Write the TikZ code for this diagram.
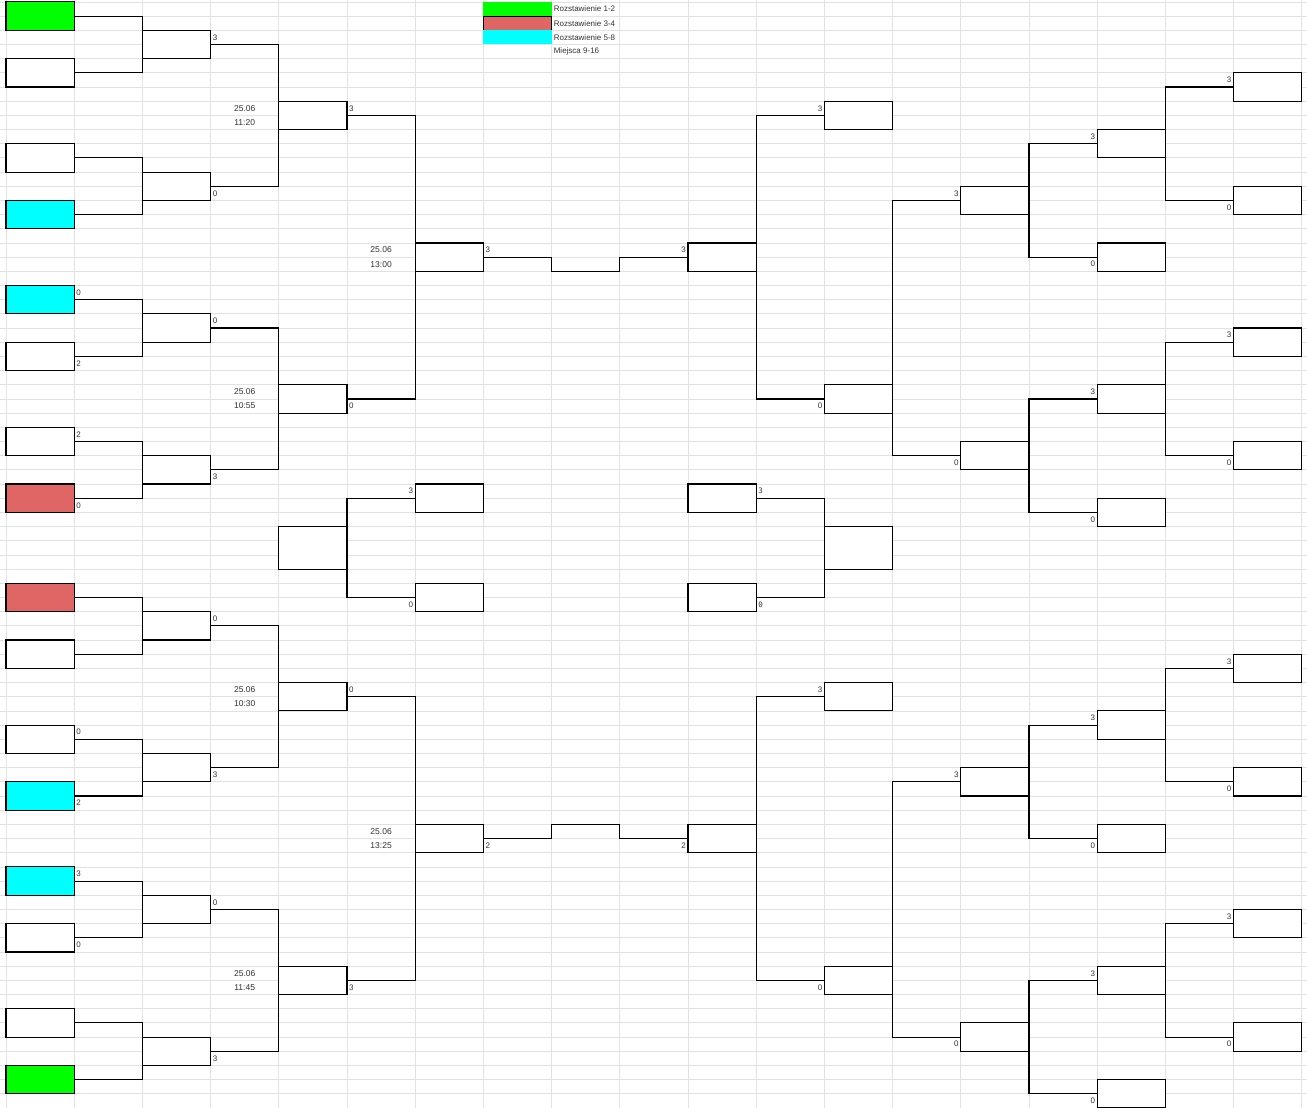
\documentclass[tikz,border=0pt]{standalone}
\usepackage{fontspec}
\setmainfont{Liberation Sans}
\setmonofont{DejaVu Sans Mono}
\usepackage{tikz}
\definecolor{seedgreen}{HTML}{00FF00}
\definecolor{seedred}{HTML}{E06666}
\definecolor{seedcyan}{HTML}{00FFFF}
\definecolor{gridgray}{HTML}{E2E2E2}

\begin{document}
\begin{tikzpicture}[x=68.2pt, y=-14.18pt,
  box/.style={draw, line width=1.1pt, fill=white, minimum width=68.2pt, minimum height=28.36pt, inner sep=0pt, outer sep=0pt, anchor=north west},
  tallbox/.style={box, minimum height=42.54pt},
  key/.style={minimum width=68.2pt, minimum height=14.18pt, inner sep=0pt, outer sep=0pt, anchor=north west},
  conn/.style={line width=1.1pt},
  gridline/.style={gridgray, line width=0.8pt},
  score/.style={font=\fontsize{8}{9}\selectfont, text=black!80, inner sep=2pt},
  lscore/.style={score, anchor=west},
  rscore/.style={score, anchor=east},
  monoscore/.style={lscore, font=\ttfamily\fontsize{7.5}{9}\selectfont},
  date/.style={font=\fontsize{8.5}{10}\selectfont, text=black!80, inner sep=0pt}]
\useasboundingbox (-0.088,-0.134) rectangle (19.076,78.0);
\fill[white] (-0.088,-0.134) rectangle (19.076,78.0);
\foreach \c in {0,...,19} \draw[gridline] (\c,-0.2) -- (\c,78.1);
\foreach \r in {0,...,78} \draw[gridline] (-0.1,\r) -- (19.1,\r);

\node[key, fill=seedgreen] (k1) at (7,0) {};
\node[key, fill=seedred, draw, line width=1pt] (k2) at (7,1) {};
\node[key, fill=seedcyan] (k3) at (7,2) {};
\node[lscore] (t1) at (8,0.5) {Rozstawienie 1-2};
\node[lscore] (t2) at (8,1.5) {Rozstawienie 3-4};
\node[lscore] (t3) at (8,2.5) {Rozstawienie 5-8};
\node[lscore] (t4) at (8,3.5) {Miejsca 9-16};

\node[box, fill=seedgreen] (la1) at (0,0) {};
\node[box] (la2) at (0,4) {};
\node[box] (la3) at (0,10) {};
\node[box, fill=seedcyan] (la4) at (0,14) {};
\node[box, fill=seedcyan] (la5) at (0,20) {};
\node[box] (la6) at (0,24) {};
\node[box] (la7) at (0,30) {};
\node[box, fill=seedred] (la8) at (0,34) {};
\node[box, fill=seedred] (la9) at (0,41) {};
\node[box] (la10) at (0,45) {};
\node[box] (la11) at (0,51) {};
\node[box, fill=seedcyan] (la12) at (0,55) {};
\node[box, fill=seedcyan] (la13) at (0,61) {};
\node[box] (la14) at (0,65) {};
\node[box] (la15) at (0,71) {};
\node[box, fill=seedgreen] (la16) at (0,75) {};

\node[box] (lb1) at (2,2) {};
\node[box] (lb2) at (2,12) {};
\node[box] (lb3) at (2,22) {};
\node[box] (lb4) at (2,32) {};
\node[box] (lb5) at (2,43) {};
\node[box] (lb6) at (2,53) {};
\node[box] (lb7) at (2,63) {};
\node[box] (lb8) at (2,73) {};

\node[box] (lc1) at (4,7) {};
\node[box] (lc2) at (4,27) {};
\node[box] (lc3) at (4,48) {};
\node[box] (lc4) at (4,68) {};

\node[box] (ld1) at (6,17) {};
\node[box] (ld2) at (6,58) {};

\node[tallbox] (lt) at (4,37) {};
\node[box] (lt1) at (6,34) {};
\node[box] (lt2) at (6,41) {};
\node[box] (rt1) at (10,34) {};
\node[box] (rt2) at (10,41) {};
\node[tallbox] (rt) at (12,37) {};

\node[box] (rf1) at (10,17) {};
\node[box] (rf2) at (10,58) {};

\node[box] (rc1) at (12,7) {};
\node[box] (rc2) at (12,27) {};
\node[box] (rc3) at (12,48) {};
\node[box] (rc4) at (12,68) {};

\node[box] (rb1) at (14,13) {};
\node[box] (rb2) at (14,31) {};
\node[box] (rb3) at (14,54) {};
\node[box] (rb4) at (14,72) {};

\node[box] (ra1) at (16,9) {};
\node[box] (ra2) at (16,17) {};
\node[box] (ra3) at (16,27) {};
\node[box] (ra4) at (16,35) {};
\node[box] (ra5) at (16,50) {};
\node[box] (ra6) at (16,58) {};
\node[box] (ra7) at (16,68) {};
\node[box] (ra8) at (16,76) {};

\node[box] (rz1) at (18,5) {};
\node[box] (rz2) at (18,13) {};
\node[box] (rz3) at (18,23) {};
\node[box] (rz4) at (18,31) {};
\node[box] (rz5) at (18,46) {};
\node[box] (rz6) at (18,54) {};
\node[box] (rz7) at (18,64) {};
\node[box] (rz8) at (18,72) {};

\coordinate (m1) at (8,19);
\coordinate (m2) at (9,19);
\coordinate (m3) at (8,58);
\coordinate (m4) at (9,58);

\draw[conn] (la1.east) -| (lb1.west) |- (la2.east);
\draw[conn] (la3.east) -| (lb2.west) |- (la4.east);
\draw[conn] (la5.east) -| (lb3.west) |- (la6.east);
\draw[conn] (la7.east) -| (lb4.west) |- (la8.east);
\draw[conn] (la9.east) -| (lb5.west) |- (la10.east);
\draw[conn] (la11.east) -| (lb6.west) |- (la12.east);
\draw[conn] (la13.east) -| (lb7.west) |- (la14.east);
\draw[conn] (la15.east) -| (lb8.west) |- (la16.east);
\draw[conn] (lb1.east) -| (lc1.west) |- (lb2.east);
\draw[conn] (lb3.east) -| (lc2.west) |- (lb4.east);
\draw[conn] (lb5.east) -| (lc3.west) |- (lb6.east);
\draw[conn] (lb7.east) -| (lc4.west) |- (lb8.east);
\draw[conn] (lc1.east) -| (ld1.west) |- (lc2.east);
\draw[conn] (lc3.east) -| (ld2.west) |- (lc4.east);
\draw[conn] (ld1.east) -| (m1) -- (m2) |- (rf1.west);
\draw[conn] (ld2.east) -| (m3) -- (m4) |- (rf2.west);
\draw[conn] (lt1.west) -| (lt.east) |- (lt2.west);
\draw[conn] (rt1.east) -| (rt.west) |- (rt2.east);
\draw[conn] (rc1.west) -| (rf1.east) |- (rc2.west);
\draw[conn] (rc3.west) -| (rf2.east) |- (rc4.west);
\draw[conn] (rb1.west) -| (rc2.east) |- (rb2.west);
\draw[conn] (rb3.west) -| (rc4.east) |- (rb4.west);
\draw[conn] (ra1.west) -| (rb1.east) |- (ra2.west);
\draw[conn] (ra3.west) -| (rb2.east) |- (ra4.west);
\draw[conn] (ra5.west) -| (rb3.east) |- (ra6.west);
\draw[conn] (ra7.west) -| (rb4.east) |- (ra8.west);
\draw[conn] (rz1.west) -| (ra1.east) |- (rz2.west);
\draw[conn] (rz3.west) -| (ra3.east) |- (rz4.west);
\draw[conn] (rz5.west) -| (ra5.east) |- (rz6.west);
\draw[conn] (rz7.west) -| (ra7.east) |- (rz8.west);

\node[date] (d1) at (3.5,7.5) {25.06};
\node[date] (d2) at (3.5,8.5) {11:20};
\node[date] (d3) at (3.5,27.5) {25.06};
\node[date] (d4) at (3.5,28.5) {10:55};
\node[date] (d5) at (5.5,17.5) {25.06};
\node[date] (d6) at (5.5,18.5) {13:00};
\node[date] (d7) at (3.5,48.5) {25.06};
\node[date] (d8) at (3.5,49.5) {10:30};
\node[date] (d9) at (3.5,68.5) {25.06};
\node[date] (d10) at (3.5,69.5) {11:45};
\node[date] (d11) at (5.5,58.5) {25.06};
\node[date] (d12) at (5.5,59.5) {13:25};

\node[lscore] (s1) at (3,2.5) {3};
\node[lscore] (s2) at (3,13.5) {0};
\node[lscore] (s3) at (1,20.5) {0};
\node[lscore] (s4) at (1,25.5) {2};
\node[lscore] (s5) at (1,30.5) {2};
\node[lscore] (s6) at (1,35.5) {0};
\node[lscore] (s7) at (3,22.5) {0};
\node[lscore] (s8) at (3,33.5) {3};
\node[lscore] (s9) at (5,7.5) {3};
\node[lscore] (s10) at (5,28.5) {0};
\node[lscore] (s11) at (7,17.5) {3};
\node[rscore] (s12) at (10,17.5) {3};
\node[rscore] (s13) at (6,34.5) {3};
\node[rscore] (s14) at (6,42.5) {0};
\node[monoscore] (s15) at (11,34.5) {3};
\node[monoscore] (s16) at (11,42.5) {0};
\node[lscore] (s17) at (3,43.5) {0};
\node[lscore] (s18) at (3,54.5) {3};
\node[lscore] (s19) at (1,51.5) {0};
\node[lscore] (s20) at (1,56.5) {2};
\node[lscore] (s21) at (1,61.5) {3};
\node[lscore] (s22) at (1,66.5) {0};
\node[lscore] (s23) at (3,63.5) {0};
\node[lscore] (s24) at (3,74.5) {3};
\node[lscore] (s25) at (5,48.5) {0};
\node[lscore] (s26) at (5,69.5) {3};
\node[lscore] (s27) at (7,59.5) {2};
\node[rscore] (s28) at (10,59.5) {2};

\node[rscore] (r1) at (12,7.5) {3};
\node[rscore] (r2) at (12,28.5) {0};
\node[rscore] (r3) at (14,13.5) {3};
\node[rscore] (r4) at (14,32.5) {0};
\node[rscore] (r5) at (16,9.5) {3};
\node[rscore] (r6) at (16,18.5) {0};
\node[rscore] (r7) at (16,27.5) {3};
\node[rscore] (r8) at (16,36.5) {0};
\node[rscore] (r9) at (18,5.5) {3};
\node[rscore] (r10) at (18,14.5) {0};
\node[rscore] (r11) at (18,23.5) {3};
\node[rscore] (r12) at (18,32.5) {0};
\node[rscore] (r13) at (12,48.5) {3};
\node[rscore] (r14) at (12,69.5) {0};
\node[rscore] (r15) at (14,54.5) {3};
\node[rscore] (r16) at (14,73.5) {0};
\node[rscore] (r17) at (16,50.5) {3};
\node[rscore] (r18) at (16,59.5) {0};
\node[rscore] (r19) at (16,68.5) {3};
\node[rscore] (r20) at (16,77.5) {0};
\node[rscore] (r21) at (18,46.5) {3};
\node[rscore] (r22) at (18,55.5) {0};
\node[rscore] (r23) at (18,64.5) {3};
\node[rscore] (r24) at (18,73.5) {0};
\end{tikzpicture}
\end{document}
